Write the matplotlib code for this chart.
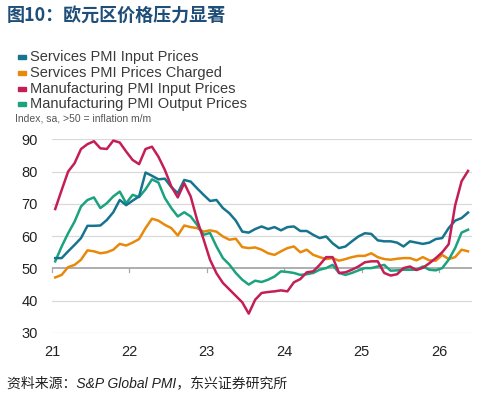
import numpy as np
import matplotlib
matplotlib.use("Agg")
import matplotlib.pyplot as plt
from matplotlib.patches import Rectangle

# Monthly data, Jan 2021 .. May 2026
start_year = 2021
services_input = [53.2, 53.2, 55.3, 57.3, 59.4, 63.2, 63.2, 63.3, 65.0, 67.4, 71.2, 69.6,
                  71.0, 72.3, 79.7, 78.7, 77.6, 77.8, 75.2, 73.3, 77.4, 76.9, 74.8, 72.8,
                  70.9, 71.2, 68.7, 67.1, 64.8, 61.4, 61.1, 62.2, 63.0, 62.2, 62.8, 61.8,
                  62.8, 63.0, 61.6, 61.6, 60.4, 59.4, 59.9, 57.8, 56.3, 56.8, 58.4, 59.9,
                  60.9, 60.7, 58.7, 58.4, 58.4, 58.0, 56.8, 58.4, 58.0, 57.6, 58.0, 59.1,
                  59.4, 62.5, 64.8, 65.6, 67.3]
services_charged = [47.2, 48.0, 50.4, 51.1, 52.7, 55.6, 55.3, 54.7, 55.0, 55.8, 57.6, 57.1,
                    58.0, 59.1, 62.5, 65.4, 64.8, 63.5, 62.5, 60.2, 63.3, 62.8, 62.5, 61.4,
                    61.8, 61.4, 59.9, 58.9, 59.2, 56.6, 56.3, 56.5, 55.8, 54.7, 54.2, 55.3,
                    56.3, 56.8, 55.0, 55.8, 54.2, 53.5, 52.9, 53.2, 52.4, 52.9, 53.5, 53.9,
                    53.9, 54.7, 53.5, 52.9, 52.7, 53.0, 53.2, 53.2, 52.5, 53.5, 52.5, 52.4,
                    54.2, 52.9, 53.5, 55.8, 55.3]
manuf_input = [68.4, 74.3, 80.0, 82.6, 87.0, 88.5, 89.4, 87.2, 87.0, 89.6, 89.0, 86.2,
               83.6, 82.3, 87.0, 87.7, 84.6, 80.5, 75.4, 72.0, 76.4, 72.3, 65.0, 59.0,
               52.7, 48.5, 45.5, 43.5, 41.5, 39.5, 36.0, 40.3, 42.4, 42.7, 42.9, 43.2,
               42.9, 45.7, 46.7, 48.8, 49.1, 51.1, 53.5, 53.5, 48.6, 48.8, 49.6, 50.6,
               51.9, 52.2, 52.2, 48.6, 47.8, 48.2, 50.1, 50.6, 49.5, 50.2, 51.6, 53.2,
               55.0, 57.5, 69.5, 77.0, 80.2]
manuf_output = [52.2, 56.8, 60.9, 64.5, 69.2, 71.2, 72.0, 68.7, 70.2, 72.3, 73.8, 70.2,
                72.8, 72.1, 74.5, 77.6, 76.6, 71.8, 68.7, 66.1, 67.4, 66.1, 63.5, 60.4,
                61.0, 56.8, 53.2, 51.2, 48.6, 46.5, 45.0, 46.2, 45.8, 46.5, 47.5, 49.1,
                48.9, 48.6, 48.0, 48.2, 48.6, 49.6, 50.1, 51.1, 48.6, 48.0, 48.6, 49.4,
                50.1, 50.1, 50.6, 51.1, 49.3, 49.4, 49.6, 49.6, 49.6, 50.6, 49.6, 49.4,
                50.1, 52.7, 56.3, 61.1, 62.0]

series_names = ["Services PMI Input Prices", "Services PMI Prices Charged",
                "Manufacturing PMI Input Prices", "Manufacturing PMI Output Prices"]
colors = ["#17748E", "#E8890C", "#C41E56", "#1BA27E"]
year_ticks = [2021, 2022, 2023, 2024, 2025, 2026]
year_labels = ["21", "22", "23", "24", "25", "26"]
y_ticks = [30, 40, 50, 60, 70, 80, 90]

plt.rcParams['font.family'] = ['Liberation Sans', 'Noto Sans CJK SC', 'DejaVu Sans']

W, H = 484, 399
fig = plt.figure(figsize=(W / 100, H / 100), dpi=100)
fig.patch.set_facecolor("white")

def fx(px):
    return px / W

def fy(py):
    return 1 - py / H

ax = fig.add_axes([fx(52), fy(333), fx(472) - fx(52), fy(139.3) - fy(333)])
n = len(services_input)
x = start_year + (np.arange(n) + 0.5) / 12

data = [services_input, services_charged, manuf_input, manuf_output]
for k in [1, 3, 0, 2]:
    ax.plot(x, data[k], color=colors[k], lw=1.8, solid_joinstyle="round", zorder=3)

ax.set_xlim(2021, 2021 + (472 - 52) / 77.4)
ax.set_ylim(30, 90)
for yv in y_ticks:
    if yv == 50:
        ax.axhline(yv, color="#A8A8A8", lw=1.3, zorder=1)
    else:
        ax.axhline(yv, color="#D9D9D9", lw=0.9, zorder=1)
for yr in year_ticks:
    ax.plot([yr, yr], [50, 49.0], color="#A8A8A8", lw=0.9, zorder=1, clip_on=False)

for s in ax.spines.values():
    s.set_visible(False)
ax.set_yticks(y_ticks)
ax.set_yticklabels([str(v) for v in y_ticks], fontsize=10.5, color="#222222")
ax.tick_params(axis="y", length=0, pad=10)
ax.set_xticks(year_ticks)
ax.set_xticklabels(year_labels, fontsize=10.5, color="#222222")
ax.tick_params(axis="x", length=0, pad=9)

# Title
fig.text(fx(7), fy(15), "图10：欧元区价格压力显著", fontsize=13, fontweight="bold",
         color="#1F4E79", va="center", ha="left",
         family=["Noto Sans CJK SC", "DejaVu Sans"])

# Legend
legend_y = [57, 73, 88.5, 104]
for name, c, ly in zip(series_names, colors, legend_y):
    fig.patches.append(Rectangle((fx(18), fy(ly + 2)), fx(8), fy(ly - 2) - fy(ly + 2),
                                 transform=fig.transFigure, color=c, figure=fig))
    fig.text(fx(30), fy(ly), name, fontsize=10.5, color="#3A3A3A", va="center", ha="left")

fig.text(fx(15), fy(118.5), "Index, sa, >50 = inflation m/m", fontsize=7.5,
         color="#555555", va="center", ha="left")

# Source
fig.text(fx(7), fy(383), "资料来源：S&P Global PMI，东兴证券研究所", fontsize=10,
         style="italic", color="#222222", va="center", ha="left",
         family=["Liberation Sans", "Noto Sans CJK SC"])

fig.savefig("out.png", dpi=100)
